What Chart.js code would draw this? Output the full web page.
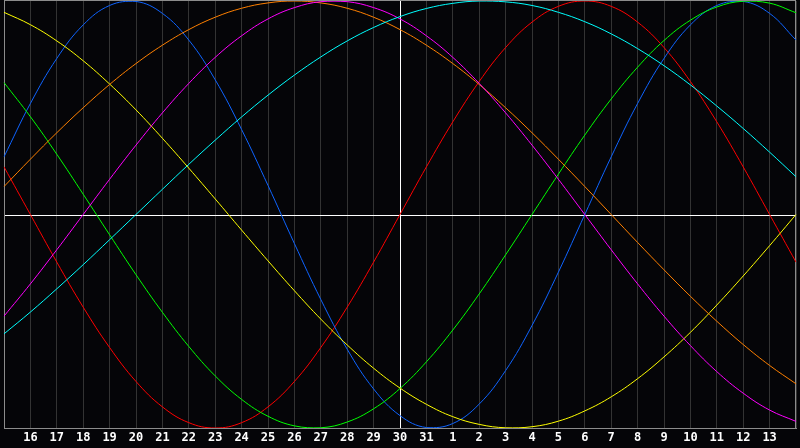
<!DOCTYPE html>
<html>
<head>
<meta charset="utf-8">
<script src="https://cdn.jsdelivr.net/npm/chart.js@4"></script>
<style>
    html, body { margin: 0; padding: 0; background: #050508; }
    canvas { display: block; }
</style>
</head>
<body>
<canvas id="bioChart" width="800" height="448"></canvas>
<script>
// Days shown on the x axis (15 Oct .. 14 Nov), first and last are the plot edges
const dayLabels = ['15', '16', '17', '18', '19', '20', '21', '22', '23', '24', '25', '26', '27', '28', '29', '30',
    '31', '1', '2', '3', '4', '5', '6', '7', '8', '9', '10', '11', '12', '13', '14'];

// Cycle values, one per day (-1 .. 1)
const redValues = [0.223, 0, -0.223, -0.434, -0.623, -0.782, -0.901, -0.975, -1, -0.975, -0.901, -0.782, -0.623, -0.434, -0.223, 0,
    0.223, 0.434, 0.623, 0.782, 0.901, 0.975, 1, 0.975, 0.901, 0.782, 0.623, 0.434, 0.223, 0, -0.223];
const blueValues = [0.270, 0.520, 0.731, 0.888, 0.979, 0.998, 0.942, 0.817, 0.631, 0.398, 0.136, -0.136, -0.398, -0.631, -0.817, -0.942,
    -0.998, -0.979, -0.888, -0.731, -0.520, -0.270, 0, 0.270, 0.520, 0.731, 0.888, 0.979, 0.998, 0.942, 0.817];
const greenValues = [0.618, 0.458, 0.282, 0.095, -0.095, -0.282, -0.458, -0.618, -0.756, -0.866, -0.945, -0.990, -0.999, -0.972, -0.910, -0.815,
    -0.690, -0.541, -0.372, -0.189, 0, 0.189, 0.372, 0.541, 0.690, 0.815, 0.910, 0.972, 0.999, 0.990, 0.945];
const magentaValues = [-0.476, -0.325, -0.165, 0, 0.165, 0.325, 0.476, 0.614, 0.736, 0.837, 0.916, 0.969, 0.997, 0.997, 0.969, 0.916,
    0.837, 0.736, 0.614, 0.476, 0.325, 0.165, 0, -0.165, -0.325, -0.476, -0.614, -0.736, -0.837, -0.916, -0.969];
const yellowValues = [0.947, 0.889, 0.813, 0.720, 0.611, 0.490, 0.357, 0.217, 0.073, -0.073, -0.217, -0.357, -0.490, -0.611, -0.720, -0.813,
    -0.889, -0.947, -0.983, -0.999, -0.994, -0.968, -0.920, -0.854, -0.769, -0.667, -0.552, -0.424, -0.288, -0.146, 0];
const orangeValues = [0.131, 0.259, 0.383, 0.500, 0.609, 0.707, 0.793, 0.866, 0.924, 0.966, 0.991, 1, 0.991, 0.966, 0.924, 0.866,
    0.793, 0.707, 0.609, 0.500, 0.383, 0.259, 0.131, 0, -0.131, -0.259, -0.383, -0.500, -0.609, -0.707, -0.793];
const cyanValues = [-0.559, -0.457, -0.348, -0.235, -0.118, 0, 0.118, 0.235, 0.348, 0.457, 0.559, 0.653, 0.738, 0.813, 0.876, 0.927,
    0.965, 0.989, 1.000, 0.996, 0.979, 0.947, 0.903, 0.846, 0.777, 0.697, 0.607, 0.508, 0.403, 0.292, 0.177];

const todayIndex = 15;

function lineSet(values, color) {
    return {
        data: values,
        borderColor: color,
        borderWidth: 1,
        pointRadius: 0,
        tension: 0.4,
        fill: false
    };
}

// Background, frame and the zero line
const framePlugin = {
    id: 'frame',
    beforeDraw(chart) {
        const c = chart.ctx;
        c.save();
        c.fillStyle = '#050508';
        c.fillRect(0, 0, chart.width, chart.height);
        c.restore();
    },
    beforeDatasetsDraw(chart) {
        const c = chart.ctx;
        const area = chart.chartArea;
        const y0 = Math.round(chart.scales.y.getPixelForValue(0)) + 0.5;
        c.save();
        c.lineWidth = 1;
        c.strokeStyle = '#ffffff';
        c.beginPath();
        c.moveTo(area.left, y0);
        c.lineTo(area.right, y0);
        c.stroke();
        c.strokeStyle = '#8c8c8c';
        c.strokeRect(area.left + 0.5, 0.5, area.right - area.left - 1, area.bottom);
        c.restore();
    }
};

const ctx = document.getElementById('bioChart');
new Chart(ctx, {
    type: 'line',
    data: {
        labels: dayLabels,
        datasets: [
            lineSet(cyanValues, '#00ffff'),
            lineSet(magentaValues, '#ff00ff'),
            lineSet(orangeValues, '#ff8000'),
            lineSet(yellowValues, '#ffff00'),
            lineSet(greenValues, '#00ff00'),
            lineSet(blueValues, '#0f64ff'),
            lineSet(redValues, '#ff0000')
        ]
    },
    options: {
        responsive: false,
        animation: false,
        layout: { padding: { top: 1, right: 0, bottom: 0, left: 0 } },
        plugins: {
            legend: { display: false },
            tooltip: { enabled: false }
        },
        scales: {
            x: {
                grid: {
                    drawTicks: false,
                    color: (c) => c.index === todayIndex ? '#ffffff' : '#333333'
                },
                border: { display: true, color: '#8c8c8c' },
                ticks: {
                    autoSkip: false,
                    maxRotation: 0,
                    padding: 4,
                    color: '#ffffff',
                    font: { family: 'DejaVu Sans Mono', weight: 'bold', size: 12, lineHeight: 1 },
                    callback: (val, idx) => (idx === 0 || idx === dayLabels.length - 1) ? '' : dayLabels[idx]
                }
            },
            y: {
                display: false,
                min: -1,
                max: 1
            }
        }
    },
    plugins: [framePlugin]
});
</script>
</body>
</html>
